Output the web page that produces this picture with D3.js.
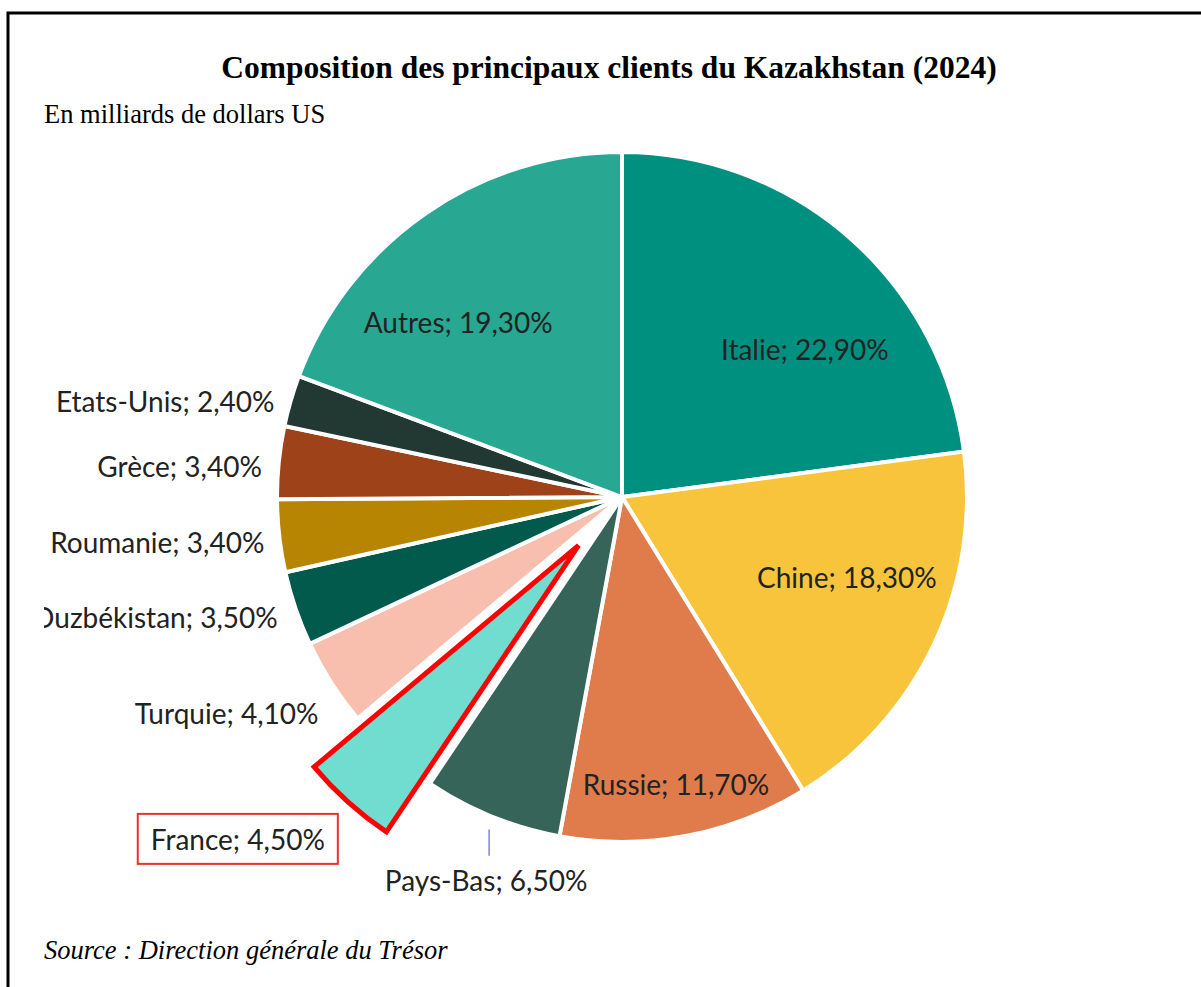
<!DOCTYPE html>
<html>
<head>
<meta charset="utf-8">
<script src="https://cdn.jsdelivr.net/npm/d3@7"></script>
<style>
  body { margin: 0; background: white; }
</style>
</head>
<body>
<script>
// Données (parts en %)
const countries = ["Italie", "Chine", "Russie", "Pays-Bas", "France", "Turquie", "Ouzbékistan", "Roumanie", "Grèce", "Etats-Unis", "Autres"];
const shares = [22.9, 18.3, 11.7, 6.5, 4.5, 4.1, 3.5, 3.4, 3.4, 2.4, 19.3];
const sliceColors = ["#00907f", "#f8c43c", "#e07b4c", "#366459", "#71dcd0", "#f8beae", "#015a4c", "#b78502", "#9e4219", "#223833", "#28a792"];

const titleText = "Composition des principaux clients du Kazakhstan (2024)";
const unitText = "En milliards de dollars US";
const sourceText = "Source : Direction générale du Trésor";

// placement des étiquettes (inside = dans la part, outside = à gauche)
const labelLayout = {
  "Italie":      { mode: "inside", r: 235, dx: 28, dy: 30 },
  "Chine":       { mode: "inside", r: 240, dx: 8, dy: -22 },
  "Russie":      { mode: "inside", r: 293, dx: 0, dy: 0 },
  "Autres":      { mode: "inside", r: 240, dx: -27, dy: 23 },
  "Pays-Bas":    { mode: "below", r: 411, dx: 19, dy: 4 },
  "France":      { mode: "box", r: 515, dx: -40, dy: -40 },
  "Turquie":     { mode: "outside", r: 365, dx: 4, dy: 21 },
  "Ouzbékistan": { mode: "outside", r: 365, dx: 1, dy: 3 },
  "Roumanie":    { mode: "outside", r: 365, dx: 5, dy: 5 },
  "Grèce":       { mode: "outside", r: 365, dx: 3, dy: 7 },
  "Etats-Unis":  { mode: "outside", r: 365, dx: 3, dy: 7 }
};

const width = 1201;
const height = 987;
const cx = 622, cy = 497;
const radius = 345;
const explode = 65;

const svg = d3.select("body").append("svg")
  .attr("width", width)
  .attr("height", height)
  .style("display", "block")
  .style("background", "white");

// cadre (seuls les bords haut et gauche sont visibles)
svg.append("path")
  .attr("d", `M8,${height} L8,13 L${width},13`)
  .attr("fill", "none")
  .attr("stroke", "black")
  .attr("stroke-width", 3);

svg.append("text")
  .attr("x", 609)
  .attr("y", 78)
  .attr("text-anchor", "middle")
  .style("font", "bold 31.5px 'Liberation Serif', 'Times New Roman', serif")
  .text(titleText);

svg.append("text")
  .attr("x", 44)
  .attr("y", 123)
  .style("font", "26.5px 'Liberation Serif', 'Times New Roman', serif")
  .text(unitText);

svg.append("text")
  .attr("x", 44)
  .attr("y", 959)
  .style("font", "italic 26.5px 'Liberation Serif', 'Times New Roman', serif")
  .text(sourceText);

svg.append("clipPath")
  .attr("id", "chartClip")
  .append("rect")
  .attr("x", 44).attr("y", 130)
  .attr("width", width - 44).attr("height", 790);

const data = countries.map((c, i) => ({ name: c, value: shares[i], color: sliceColors[i] }));

const pie = d3.pie().sort(null).value(d => d.value);
const arcs = pie(data);

const arc = d3.arc().innerRadius(0).outerRadius(radius);

const chart = svg.append("g")
  .attr("clip-path", "url(#chartClip)")
  .append("g")
  .attr("transform", `translate(${cx},${cy})`);

const fmt = v => v.toFixed(2).replace(".", ",") + "%";
const dirOf = d => {
  const a = (d.startAngle + d.endAngle) / 2;
  return [Math.sin(a), -Math.cos(a)];
};

// les parts
chart.selectAll("path.slice")
  .data(arcs)
  .join("path")
  .attr("class", "slice")
  .attr("d", arc)
  .attr("fill", d => d.data.color)
  .attr("stroke", d => d.data.name === "France" ? "#ff0000" : "white")
  .attr("stroke-width", d => d.data.name === "France" ? 5 : 4)
  .attr("stroke-linejoin", "miter")
  .attr("transform", d => {
    if (d.data.name !== "France") return null;
    const [ux, uy] = dirOf(d);
    return `translate(${ux * explode},${uy * explode})`;
  });

// étiquettes
const labelFont = "28px Lato, 'Open Sans', sans-serif";
arcs.forEach(d => {
  const lay = labelLayout[d.data.name];
  const [ux, uy] = dirOf(d);
  const x = ux * lay.r + lay.dx;
  const y = uy * lay.r + lay.dy;
  const txt = `${d.data.name}; ${fmt(d.data.value)}`;
  const t = chart.append("text")
    .attr("x", x)
    .attr("y", y)
    .attr("dy", "0.35em")
    .attr("text-anchor", lay.mode === "outside" ? "end" : "middle")
    .attr("fill", "#222")
    .style("font", labelFont)
    .text(txt);

  if (lay.mode === "box") {
    const bb = t.node().getBBox();
    chart.insert("rect", "text")
      .attr("x", bb.x - 13)
      .attr("y", bb.y - 8)
      .attr("width", bb.width + 26)
      .attr("height", bb.height + 16)
      .attr("fill", "white")
      .attr("stroke", "#e8322f")
      .attr("stroke-width", 2);
  }
  if (lay.mode === "below") {
    // trait de rappel
    chart.append("line")
      .attr("x1", x + 3).attr("x2", x + 3)
      .attr("y1", uy * (radius + 14))
      .attr("y2", y - 26)
      .attr("stroke", "#8080e8")
      .attr("stroke-width", 1.5);
  }
});
</script>
</body>
</html>
